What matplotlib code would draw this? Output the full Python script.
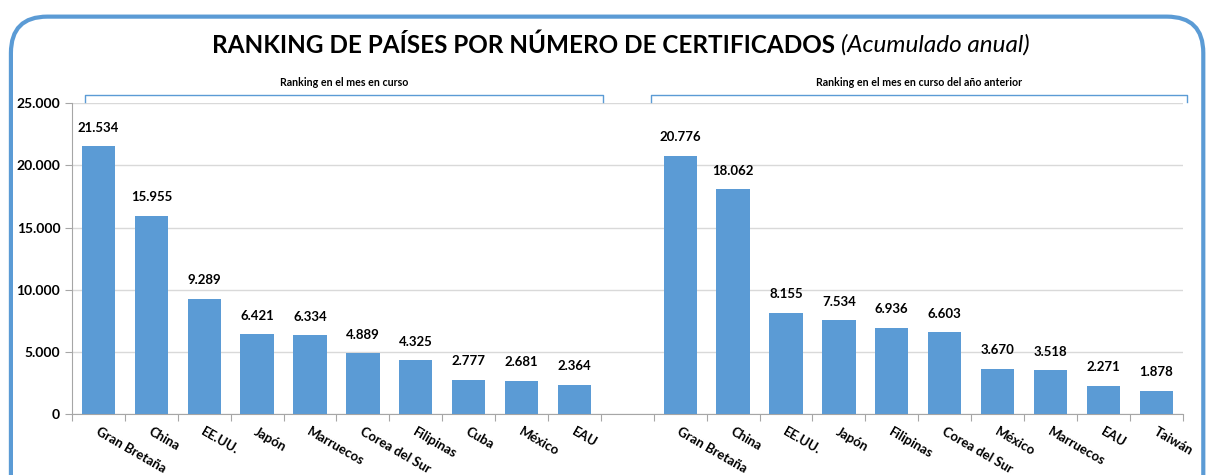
import matplotlib
matplotlib.use('Agg')
import matplotlib.pyplot as plt
from matplotlib.patches import FancyBboxPatch
from matplotlib.ticker import FuncFormatter
import numpy as np

plt.rcParams['font.family'] = ['Lato', 'DejaVu Sans']

# Data
paises_actual = ['Gran Bretaña', 'China', 'EE.UU.', 'Japón', 'Marruecos',
                 'Corea del Sur', 'Filipinas', 'Cuba', 'México', 'EAU']
valores_actual = [21534, 15955, 9289, 6421, 6334, 4889, 4325, 2777, 2681, 2364]

paises_anterior = ['Gran Bretaña', 'China', 'EE.UU.', 'Japón', 'Filipinas',
                   'Corea del Sur', 'México', 'Marruecos', 'EAU', 'Taiwán']
valores_anterior = [20776, 18062, 8155, 7534, 6936, 6603, 3670, 3518, 2271, 1878]

titulo = 'RANKING DE PAÍSES POR NÚMERO DE CERTIFICADOS'
subtitulo = '(Acumulado anual)'
grupo_actual = 'Ranking en el mes en curso'
grupo_anterior = 'Ranking en el mes en curso del año anterior'

bar_color = '#5b9bd5'
border_color = '#5b9bd5'

def fmt_miles(v):
    return '{:,.0f}'.format(v).replace(',', '.')

fig = plt.figure(figsize=(12.13, 4.75), dpi=100)
ax = fig.add_axes([0.0594, 0.128, 0.9156, 0.655])

n = len(paises_actual)
x_actual = np.arange(n)
x_anterior = np.arange(n) + n + 1
ax.bar(x_actual, valores_actual, width=0.63, color=bar_color, zorder=3)
ax.bar(x_anterior, valores_anterior, width=0.63, color=bar_color, zorder=3)

for xs, vals in [(x_actual, valores_actual), (x_anterior, valores_anterior)]:
    for xi, v in zip(xs, vals):
        ax.annotate(fmt_miles(v), (xi, v), xytext=(0, 9), textcoords='offset points',
                    ha='center', va='bottom', fontsize=9.5, fontweight='bold')

ax.set_xlim(-0.5, 2 * n + 0.5)
ax.set_ylim(0, 25000)
ax.set_yticks(np.arange(0, 25001, 5000))
ax.yaxis.set_major_formatter(FuncFormatter(lambda v, p: fmt_miles(v)))
ax.grid(axis='y', color='#d9d9d9', linewidth=1, zorder=0)

# slot boundary ticks on the x axis
ax.set_xticks(np.arange(-0.5, 2 * n + 1, 1))
ax.set_xticklabels([])
ax.tick_params(axis='x', length=5, color='#a6a6a6')
ax.tick_params(axis='y', length=5, color='#a6a6a6', labelsize=10)
for lbl in ax.get_yticklabels():
    lbl.set_fontweight('bold')

for s in ['top', 'right']:
    ax.spines[s].set_visible(False)
for s in ['left', 'bottom']:
    ax.spines[s].set_color('#a6a6a6')

# rotated category labels
for xs, names in [(x_actual, paises_actual), (x_anterior, paises_anterior)]:
    for xi, name in zip(xs, names):
        ax.text(xi + 0.02, -900, name, rotation=-30, rotation_mode='anchor',
                ha='left', va='top', fontsize=9.5, fontweight='bold')

# group brackets
def bracket(x0, x1, label):
    y_line = 25650
    y_tick = 25100
    ax.plot([x0, x0, x1, x1], [y_tick, y_line, y_line, y_tick], color='#5b9bd5',
            linewidth=1, clip_on=False)
    ax.text((x0 + x1) / 2, y_line + 550, label, ha='center', va='bottom',
            fontsize=7.7, fontweight='bold')

bracket(-0.25, 9.54, grupo_actual)
bracket(10.45, 20.58, grupo_anterior)

# title in two styles
fig.canvas.draw()
renderer = fig.canvas.get_renderer()
t1 = fig.text(0, 0.905, titulo + ' ', fontsize=17.5, fontweight='bold', va='center')
t2 = fig.text(0, 0.905, subtitulo, fontsize=17.5, fontstyle='italic', va='center')
w1 = t1.get_window_extent(renderer).width / fig.bbox.width
w2 = t2.get_window_extent(renderer).width / fig.bbox.width
x_start = 0.512 - (w1 + w2) / 2
t1.set_x(x_start)
t2.set_x(x_start + w1)

# rounded border
box = FancyBboxPatch((0.009, -0.1), 0.983, 1.065, boxstyle='round,pad=0,rounding_size=0.03',
                     transform=fig.transFigure, facecolor='none', edgecolor=border_color,
                     linewidth=3, mutation_aspect=1213 / 475)
fig.patches.append(box)

fig.savefig('out.png', dpi=100)
